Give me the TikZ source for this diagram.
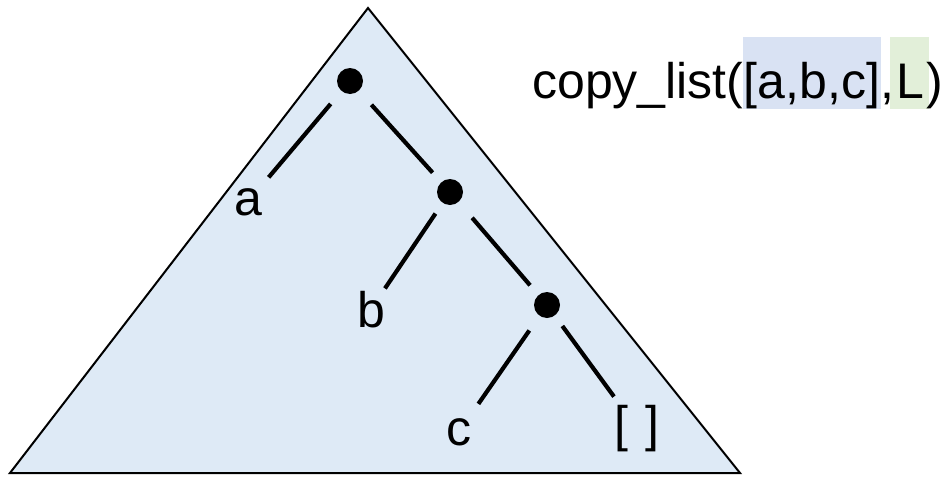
\documentclass[tikz,border=0pt]{standalone}
\usepackage{fontspec}
\setmainfont{Liberation Sans}
\usetikzlibrary{backgrounds}
\definecolor{trifill}{HTML}{DEEAF6}
\definecolor{hlblue}{HTML}{D9E2F3}
\definecolor{hlgreen}{HTML}{E2EFD9}
\tikzset{
  dot/.style={circle, fill=black, inner sep=0pt, minimum size=26pt},
  lbl/.style={inner sep=0pt, anchor=base, font=\fontsize{50}{60}\selectfont},
  ttl/.style={inner sep=0pt, anchor=base west, font=\fontsize{50}{60}\selectfont},
  branch/.style={line width=4.2pt},
}
\begin{document}
\begin{tikzpicture}[x=1pt, y=-1pt]
\useasboundingbox (0,0) rectangle (946,477);
\draw[fill=trifill, line width=2pt, line join=miter] (368,8) -- (740,473) -- (10,473) -- cycle;

\node[dot] (d1) at (350,81) {};
\node[dot] (d2) at (450,192) {};
\node[dot] (d3) at (547,305) {};

\node[lbl] (la) at (248,215) {a};
\node[lbl] (lb) at (371,327) {b};
\node[lbl] (lc) at (459,445) {c};
\node[lbl] (ln) at (637,441) {[\hspace{17pt}]};

\draw[branch, shorten <=30pt, shorten >=32pt] (d1.center) -- (la.center);
\draw[branch, shorten <=32pt, shorten >=26pt] (d1.center) -- (d2.center);
\draw[branch, shorten <=26pt, shorten >=25pt] (d2.center) -- (lb.center);
\draw[branch, shorten <=34pt, shorten >=26pt] (d2.center) -- (d3.center);
\draw[branch, shorten <=31pt, shorten >=34pt] (d3.center) -- (lc.center);
\draw[branch, shorten <=26pt, shorten >=39pt] (d3.center) -- (ln.center);

\node[ttl] (t1) at (532,98) {copy\_list(};
\node[ttl] (t2) at (t1.base east) {[a,b,c]};
\node[ttl] (t3) at (t2.base east) {,};
\node[ttl] (t4) at ([xshift=2pt]t3.base east) {L};
\node[ttl] (t5) at ([xshift=2pt]t4.base east) {)};
\begin{scope}[on background layer]
\fill[hlblue] ([xshift=-1pt]t2.west |- 0,37) rectangle ([xshift=1pt]t2.east |- 0,109);
\fill[hlgreen] ([xshift=-6pt]t4.west |- 0,37) rectangle ([xshift=4pt]t4.east |- 0,109);
\end{scope}
\end{tikzpicture}
\end{document}
